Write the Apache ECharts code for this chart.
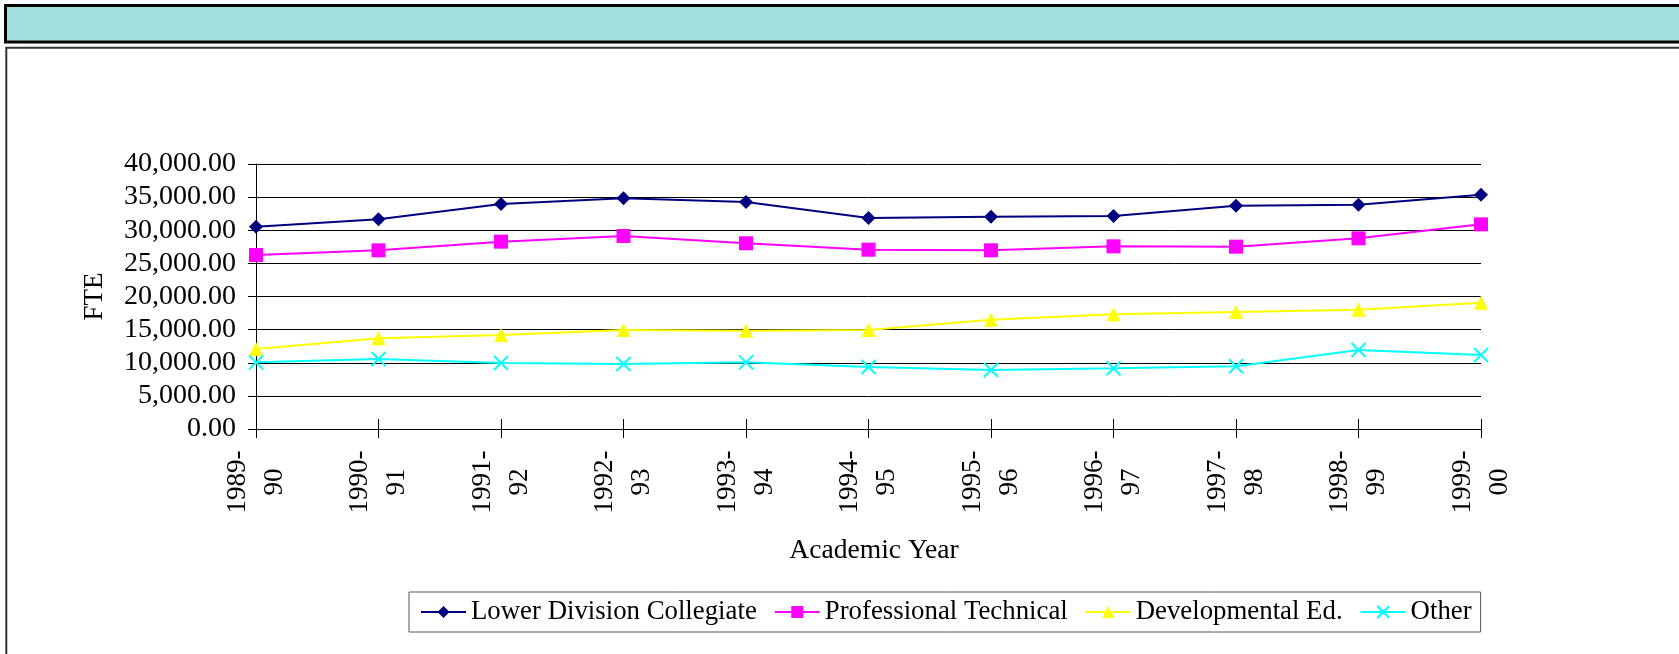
<!DOCTYPE html>
<html>
<head>
<meta charset="utf-8">
<script src="https://cdn.jsdelivr.net/npm/echarts@6/dist/echarts.min.js"></script>
<style>
  html, body { margin: 0; padding: 0; background: #fff; }
  #chart { width: 1679px; height: 654px; }
</style>
</head>
<body>
<div id="chart"></div>
<script>
// academic years on the x axis
const years = ['1989-90', '1990-91', '1991-92', '1992-93', '1993-94', '1994-95',
  '1995-96', '1996-97', '1997-98', '1998-99', '1999-00'];

// FTE per program
const lowerDivision = [30540, 31650, 33960, 34820, 34260, 31850, 32050, 32150, 33710, 33860, 35370];
const profTechnical = [26260, 26970, 28280, 29130, 28030, 27070, 26970, 27570, 27520, 28780, 30890];
const developmental = [12080, 13690, 14190, 14940, 14840, 14940, 16500, 17310, 17660, 18010, 19070];
const other = [10060, 10570, 9960, 9810, 10060, 9360, 8910, 9160, 9460, 11920, 11170];

const yMin = 0;
const yMax = 40000;
const yStep = 5000;

const FONT = "'Liberation Serif', 'Times New Roman', serif";
const crossPath = 'path://M0,0L10,10M10,0L0,10';

function makeSeries(name, data, color, symbol) {
  return {
    name: name,
    type: 'line',
    data: data,
    symbol: symbol,
    symbolSize: 14,
    lineStyle: { color: color, width: 2 },
    itemStyle: symbol === crossPath
      ? { color: color, borderColor: color, borderWidth: 2 }
      : { color: color, borderWidth: 0 },
    emphasis: { disabled: true }
  };
}

const chart = echarts.init(document.getElementById('chart'), null, { renderer: 'canvas' });

chart.setOption({
  animation: false,
  backgroundColor: '#fff',
  textStyle: { fontFamily: FONT },
  graphic: [
    // title strip at the top
    {
      type: 'rect',
      shape: { x: 5.5, y: 5.5, width: 1700, height: 36.5 },
      style: { fill: '#a2e0e0', stroke: '#000', lineWidth: 3 }
    },
    // frame round the chart
    {
      type: 'rect',
      shape: { x: 6.3, y: 47.7, width: 1700, height: 700 },
      style: { fill: 'none', stroke: '#333', lineWidth: 2 }
    }
  ],
  grid: {
    left: 256,
    right: 1679 - 1481,
    top: 164,
    bottom: 654 - 429,
    outerBoundsMode: 'none'
  },
  legend: {
    left: 409,
    top: 592,
    orient: 'horizontal',
    itemWidth: 45,
    itemHeight: 15,
    itemGap: 17,
    padding: [5, 9, 5, 11],
    borderColor: '#555',
    borderWidth: 1,
    textStyle: { fontFamily: FONT, fontSize: 26.8, color: '#000', lineHeight: 30 },
    data: ['Lower Division Collegiate', 'Professional Technical', 'Developmental Ed.', 'Other']
  },
  xAxis: [
    {
      type: 'category',
      data: years,
      boundaryGap: false,
      name: 'Academic Year',
      nameLocation: 'middle',
      nameGap: 108,
      nameTextStyle: { fontFamily: FONT, fontSize: 27.6, color: '#000', padding: [0, 0, 0, 11] },
      axisLine: { lineStyle: { color: '#000', width: 1 } },
      axisTick: { alignWithLabel: true, length: 9, lineStyle: { color: '#000' } },
      axisLabel: {
        rotate: 90,
        align: 'center',
        verticalAlign: 'middle',
        margin: 53,
        fontFamily: FONT,
        fontSize: 27,
        lineHeight: 37,
        color: '#000',
        interval: 0,
        formatter: (v) => v.replace('-', '-\n')
      },
      splitLine: { show: false }
    },
    {
      // second axis only to draw the inner half of the crossing ticks
      type: 'category',
      data: years,
      boundaryGap: false,
      position: 'bottom',
      axisLine: { show: false },
      axisTick: { inside: true, length: 10, lineStyle: { color: '#000' } },
      axisLabel: { show: false },
      splitLine: { show: false }
    }
  ],
  yAxis: [
    {
      type: 'value',
      min: yMin,
      max: yMax,
      interval: yStep,
      name: 'FTE',
      nameLocation: 'middle',
      nameRotate: 90,
      nameGap: 148,
      nameTextStyle: { fontFamily: FONT, fontSize: 27, color: '#000' },
      axisLine: { show: true, lineStyle: { color: '#000', width: 1 } },
      axisTick: { show: true, length: 8, lineStyle: { color: '#000' } },
      axisLabel: {
        margin: 20,
        padding: [4, 0, 0, 0],
        fontFamily: FONT,
        fontSize: 28,
        color: '#000',
        formatter: (v) => v.toLocaleString('en-US', { minimumFractionDigits: 2, maximumFractionDigits: 2 })
      },
      splitLine: { show: true, lineStyle: { color: '#000', width: 1 } }
    },
    {
      type: 'value',
      min: yMin,
      max: yMax,
      interval: yStep,
      position: 'left',
      axisLine: { show: false },
      axisTick: { show: true, inside: true, length: 8, lineStyle: { color: '#000' } },
      axisLabel: { show: false },
      splitLine: { show: false }
    }
  ],
  series: [
    makeSeries('Lower Division Collegiate', lowerDivision, '#000080', 'diamond'),
    makeSeries('Professional Technical', profTechnical, '#ff00ff', 'rect'),
    makeSeries('Developmental Ed.', developmental, '#ffff00', 'triangle'),
    makeSeries('Other', other, '#00ffff', crossPath)
  ]
});
</script>
</body>
</html>
